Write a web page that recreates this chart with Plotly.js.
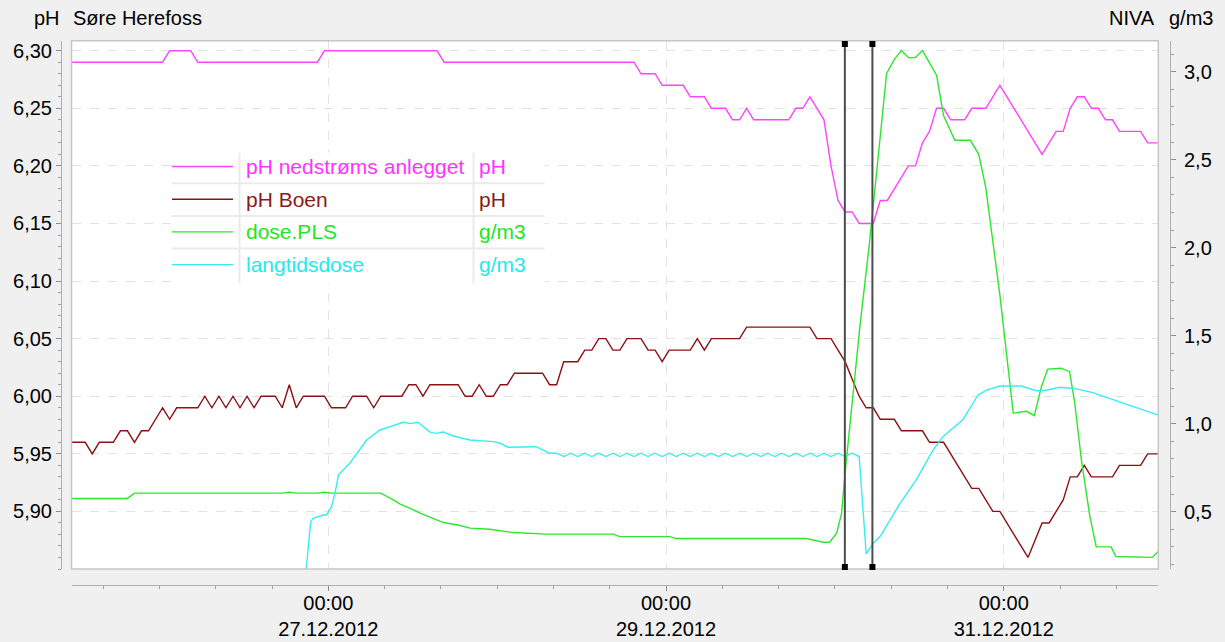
<!DOCTYPE html>
<html>
<head>
<meta charset="utf-8">
<script src="https://cdn.plot.ly/plotly-3.0.1.min.js"></script>
<style>
  html, body { margin: 0; padding: 0; background: #f0f0f0; }
  #chart { width: 1225px; height: 642px; }
</style>
</head>
<body>
<div id="chart"></div>
<script>
// Logger samples, time given in hours after seriesStart
const seriesStart = '2012-12-25T00:27:00';

// pH nedstrøms anlegget (left axis, pH)
const phNedHours = [10, 24, 25, 28, 29, 46, 47, 63, 64, 91, 92, 94, 95, 98, 99, 101, 102, 104, 105, 106, 107, 108,
  113, 114, 115, 116, 117, 118, 119, 120, 121, 122, 123, 125, 126, 127, 130, 131, 132, 133, 134, 135, 136, 138, 139,
  141, 143, 145, 146, 149, 151, 152, 153, 154, 155, 156, 157, 158, 159, 160, 163, 164, 167];
const phNedValues = [6.29, 6.29, 6.30, 6.30, 6.29, 6.29, 6.30, 6.30, 6.29, 6.29, 6.28, 6.28, 6.27, 6.27, 6.26, 6.26, 6.25, 6.25, 6.24, 6.24, 6.25, 6.24,
  6.24, 6.25, 6.25, 6.26, 6.25, 6.24, 6.20, 6.17, 6.16, 6.16, 6.15, 6.15, 6.17, 6.17, 6.20, 6.20, 6.22, 6.23, 6.25, 6.25, 6.24, 6.24, 6.25,
  6.25, 6.27, 6.25, 6.24, 6.21, 6.23, 6.23, 6.25, 6.26, 6.26, 6.25, 6.25, 6.24, 6.24, 6.23, 6.23, 6.22, 6.22];

// pH Boen (left axis, pH)
const phBoenHours = [10, 13, 14, 15, 17, 18, 19, 20, 21, 22, 24, 25, 26, 29, 30, 31, 32, 33, 34, 35, 36, 37, 38, 40,
  41, 42, 43, 44, 47, 48, 50, 51, 53, 54, 55, 58, 59, 60, 61, 62, 66, 67, 68, 69, 70, 71, 72, 73, 74, 78, 79, 80, 81,
  83, 84, 85, 86, 87, 88, 89, 90, 92, 93, 94, 95, 96, 99, 100, 101, 102, 106, 107, 116, 117, 119, 121, 123, 124, 125,
  126, 128, 129, 132, 133, 135, 139, 140, 142, 143, 147, 149, 150, 152, 153, 154, 155, 156, 159, 160, 163, 164, 167];
const phBoenValues = [5.96, 5.96, 5.95, 5.96, 5.96, 5.97, 5.97, 5.96, 5.97, 5.97, 5.99, 5.98, 5.99, 5.99, 6.00, 5.99, 6.00, 5.99, 6.00, 5.99, 6.00, 5.99, 6.00, 6.00,
  5.99, 6.01, 5.99, 6.00, 6.00, 5.99, 5.99, 6.00, 6.00, 5.99, 6.00, 6.00, 6.01, 6.01, 6.00, 6.01, 6.01, 6.00, 6.00, 6.01, 6.00, 6.00, 6.01, 6.01, 6.02, 6.02, 6.01, 6.01, 6.03,
  6.03, 6.04, 6.04, 6.05, 6.05, 6.04, 6.04, 6.05, 6.05, 6.04, 6.04, 6.03, 6.04, 6.04, 6.05, 6.04, 6.05, 6.05, 6.06, 6.06, 6.05, 6.05, 6.03, 6.00, 5.99, 5.99,
  5.98, 5.98, 5.97, 5.97, 5.96, 5.96, 5.92, 5.92, 5.90, 5.90, 5.86, 5.89, 5.89, 5.91, 5.93, 5.93, 5.94, 5.93, 5.93, 5.94, 5.94, 5.95, 5.95];

// dose.PLS (right axis, g/m3)
const doseHours = [10, 19, 20, 41, 42, 43, 46, 47, 48, 55, 56.8, 57.7, 59.2, 60.6, 63.9, 66, 67.7, 70.5, 73.8, 78.6,
  88, 89, 96.1, 97, 115.5, 117.9, 118.8, 119.8, 120.5, 121, 123.1, 124.5, 126.9, 128, 129, 130, 131, 132, 134, 135,
  136.6, 138.8, 140, 141, 143, 144.9, 146.8, 147.9, 148.9, 149.8, 151.7, 152.9, 153.6, 154.6, 155.8, 156.7, 158.8,
  159.5, 164.7, 165.4, 166.5];
const doseValues = [0.575, 0.575, 0.605, 0.605, 0.61, 0.605, 0.605, 0.61, 0.605, 0.605, 0.567, 0.544, 0.519, 0.491, 0.438, 0.424, 0.406, 0.40, 0.381, 0.372,
  0.372, 0.358, 0.358, 0.347, 0.347, 0.326, 0.326, 0.377, 0.49, 0.72, 1.55, 2.04, 2.99, 3.07, 3.12, 3.08, 3.08, 3.12, 2.98, 2.75,
  2.61, 2.61, 2.53, 2.34, 1.73, 1.06, 1.07, 1.045, 1.21, 1.31, 1.315, 1.295, 1.13, 0.79, 0.47, 0.30, 0.30,
  0.245, 0.24, 0.27, 0.29];

// langtidsdose (right axis, g/m3)
const longHours = [44, 45.05, 45.4, 46.8, 47.3, 48, 48.5, 49, 50.6, 51.6, 53, 54.9, 56.8, 58.2, 59.2, 60.3, 62, 62.9,
  63.9, 65.3, 67.7, 71, 71.9, 73.1, 77.1, 79,
  80, 81, 82, 83, 84, 85, 86, 87, 88, 89, 90, 91, 92, 93, 94, 95, 96, 97, 98, 99, 100, 101, 102, 103, 104, 105,
  106, 107, 108, 109, 110, 111, 112, 113, 114, 115, 116, 117, 118, 119, 120, 121, 122, 123,
  124, 125, 126, 128.7, 131.1, 133.5, 134.9, 137.7, 139.9, 141.1, 143, 146, 148.2, 149.6, 151.5, 153.6, 156.2,
  159.1, 161.9, 165.4, 167];
const longValues = [0.0, 0.443, 0.462, 0.481, 0.481, 0.528, 0.605, 0.709, 0.775, 0.832, 0.907, 0.964, 0.987, 1.008, 1.0, 1.008, 0.952, 0.945,
  0.952, 0.93, 0.907, 0.898, 0.89, 0.866, 0.869, 0.832,
  0.832, 0.813, 0.832, 0.813, 0.832, 0.813, 0.832, 0.813, 0.832, 0.813, 0.832, 0.813, 0.832, 0.813, 0.832, 0.813, 0.832, 0.813, 0.832, 0.813, 0.832, 0.813, 0.832, 0.813, 0.832, 0.813,
  0.832, 0.813, 0.832, 0.813, 0.832, 0.813, 0.832, 0.813, 0.832, 0.813, 0.832, 0.813, 0.832, 0.813, 0.832, 0.813, 0.832, 0.813,
  0.26, 0.32, 0.36, 0.54, 0.68, 0.85, 0.926, 1.02, 1.163, 1.19, 1.214, 1.214, 1.187, 1.19, 1.207, 1.20, 1.176,
  1.135, 1.097, 1.05, 1.03];

// Series names, units and colours
const seriesNames = ['pH nedstrøms anlegget', 'pH Boen', 'dose.PLS', 'langtidsdose'];
const seriesUnits = ['pH', 'pH', 'g/m3', 'g/m3'];
const lineColors = ['#ff44ff', '#8b1212', '#2ee62e', '#36eef2'];
const textColors = ['#ff33ff', '#8b1a1a', '#22e622', '#22eaf0'];

// Axis ticks
const xTickDates = ['2012-12-27 00:00', '2012-12-29 00:00', '2012-12-31 00:00'];
const xTickTexts = ['00:00<br>27.12.2012', '00:00<br>29.12.2012', '00:00<br>31.12.2012'];
const xRange = ['2012-12-25 11:30', '2012-12-31 21:58'];
const phTicks = [5.90, 5.95, 6.00, 6.05, 6.10, 6.15, 6.20, 6.25, 6.30];
const phRange = [5.850, 6.3087];
const doseTicks = [0.5, 1.0, 1.5, 2.0, 2.5, 3.0];
const doseRange = [0.174, 3.176];

// Cursor positions
const cursorTimes = ['2012-12-30 01:25', '2012-12-30 05:20'];

const W = 1225, H = 642;
const px = x => x / W;
const py = y => 1 - y / H;

const t0 = Date.parse(seriesStart + 'Z');
function toTimes(hours) {
  return hours.map(h => new Date(t0 + h * 3600000).toISOString().slice(0, 19).replace('T', ' '));
}

const traces = [
  { x: toTimes(phNedHours), y: phNedValues, yaxis: 'y' },
  { x: toTimes(phBoenHours), y: phBoenValues, yaxis: 'y' },
  { x: toTimes(doseHours), y: doseValues, yaxis: 'y2' },
  { x: toTimes(longHours), y: longValues, yaxis: 'y2' }
].map((t, i) => Object.assign(t, {
  type: 'scatter', mode: 'lines', name: seriesNames[i],
  line: { color: lineColors[i], width: 1.4 },
  hoverinfo: 'skip', cliponaxis: true
}));

const font = 'Liberation Sans, Arial, sans-serif';
const shapes = [];
const annotations = [];

// plot area frame
shapes.push({ type: 'rect', xref: 'paper', yref: 'paper', x0: px(71.5), x1: px(1158.3), y0: py(569), y1: py(40.7),
  line: { color: '#c6c6c6', width: 1.5 }, layer: 'above' });

// legend table
const legLeft = 171.5, legRight = 544.5, legTop = 152.5, rowH = 32.7;
const legBottom = legTop + 4 * rowH;
shapes.push({ type: 'rect', xref: 'paper', yref: 'paper', x0: px(legLeft), x1: px(legRight), y0: py(legBottom), y1: py(legTop),
  fillcolor: '#ffffff', line: { width: 0 }, layer: 'above' });
[239.5, 473.5].forEach(x => shapes.push({ type: 'line', xref: 'paper', yref: 'paper', x0: px(x), x1: px(x),
  y0: py(legBottom), y1: py(legTop), line: { color: '#ebebeb', width: 2 }, layer: 'above' }));
for (let r = 1; r < 4; r++) {
  const y = legTop + r * rowH - 2;
  shapes.push({ type: 'line', xref: 'paper', yref: 'paper', x0: px(legLeft), x1: px(legRight), y0: py(y), y1: py(y),
    line: { color: '#ebebeb', width: 2 }, layer: 'above' });
}
seriesNames.forEach((name, i) => {
  const yc = legTop + 14 + i * rowH;
  shapes.push({ type: 'line', xref: 'paper', yref: 'paper', x0: px(172), x1: px(233), y0: py(yc), y1: py(yc),
    line: { color: lineColors[i], width: 1.4 }, layer: 'above' });
  annotations.push({ xref: 'paper', yref: 'paper', x: px(244), y: py(yc), xanchor: 'left', yanchor: 'middle',
    text: name, showarrow: false, font: { family: font, size: 21, color: textColors[i] } });
  annotations.push({ xref: 'paper', yref: 'paper', x: px(477), y: py(yc), xanchor: 'left', yanchor: 'middle',
    text: seriesUnits[i], showarrow: false, font: { family: font, size: 21, color: textColors[i] } });
});

// cursors
cursorTimes.forEach(t => {
  shapes.push({ type: 'line', xref: 'x', yref: 'paper', x0: t, x1: t, y0: py(567), y1: py(44),
    line: { color: '#4c4c4c', width: 2 }, layer: 'above' });
  [44, 567].forEach(yy => shapes.push({ type: 'rect', xref: 'x', yref: 'paper', xsizemode: 'pixel', xanchor: t,
    x0: -3, x1: 3, ysizemode: 'pixel', yanchor: py(yy), y0: -3, y1: 3,
    fillcolor: '#000000', line: { width: 0 }, layer: 'above' }));
});

// axis headers
const hdr = (x, anchor, text) => ({ xref: 'paper', yref: 'paper', x: px(x), y: py(18), xanchor: anchor, yanchor: 'middle',
  text: text, showarrow: false, font: { family: font, size: 20, color: '#000000' } });
annotations.push(hdr(62, 'right', 'pH'));
annotations.push(hdr(71, 'left', 'Søre Herefoss'));
annotations.push(hdr(1157, 'right', 'NIVA'));
annotations.push(hdr(1167, 'left', 'g/m3'));

const layout = {
  width: W, height: H,
  margin: { l: 0, r: 0, t: 0, b: 0, pad: 0 },
  paper_bgcolor: '#f0f0f0', plot_bgcolor: '#ffffff',
  separators: ',.',
  showlegend: false,
  font: { family: font, size: 20, color: '#000000' },
  xaxis: {
    type: 'date', domain: [px(71.5), px(1158.3)], anchor: 'free', position: py(585),
    range: xRange, tickmode: 'array', tickvals: xTickDates, ticktext: xTickTexts,
    ticks: 'outside', ticklen: 5, tickcolor: '#8c8c8c', tickwidth: 1, ticklabelstandoff: -5,
    showline: true, linecolor: '#b0b0b0', linewidth: 1,
    showgrid: true, gridcolor: '#e2e2e2', griddash: 'dash', gridwidth: 1,
    minor: { tickmode: 'linear', tick0: '2012-12-25 00:00', dtick: 8 * 3600000, ticks: 'outside', ticklen: 3,
      tickcolor: '#a0a0a0', showgrid: false },
    zeroline: false, fixedrange: true, tickfont: { size: 20 }
  },
  yaxis: {
    domain: [py(569), py(40.7)], anchor: 'free', position: px(61), side: 'left',
    range: phRange, tickmode: 'array', tickvals: phTicks, tickformat: '.2f',
    ticks: 'outside', ticklen: 5, tickcolor: '#8c8c8c',
    showline: true, linecolor: '#b0b0b0', linewidth: 1,
    showgrid: true, gridcolor: '#e2e2e2', griddash: 'dash', gridwidth: 1,
    minor: { tickmode: 'linear', tick0: 5.9, dtick: 0.01, ticks: 'outside', ticklen: 3, tickcolor: '#a0a0a0', showgrid: false },
    zeroline: false, fixedrange: true
  },
  yaxis2: {
    overlaying: 'y', anchor: 'free', position: px(1170), side: 'right',
    range: doseRange, tickmode: 'array', tickvals: doseTicks, tickformat: '.1f',
    ticks: 'outside', ticklen: 5, tickcolor: '#8c8c8c', ticklabelstandoff: 4,
    showline: true, linecolor: '#b0b0b0', linewidth: 1,
    showgrid: false,
    minor: { tickmode: 'linear', tick0: 0, dtick: 0.1, ticks: 'outside', ticklen: 3, tickcolor: '#a0a0a0', showgrid: false },
    zeroline: false, fixedrange: true
  },
  shapes: shapes,
  annotations: annotations
};

Plotly.newPlot('chart', traces, layout, { staticPlot: true, displayModeBar: false });
</script>
</body>
</html>
